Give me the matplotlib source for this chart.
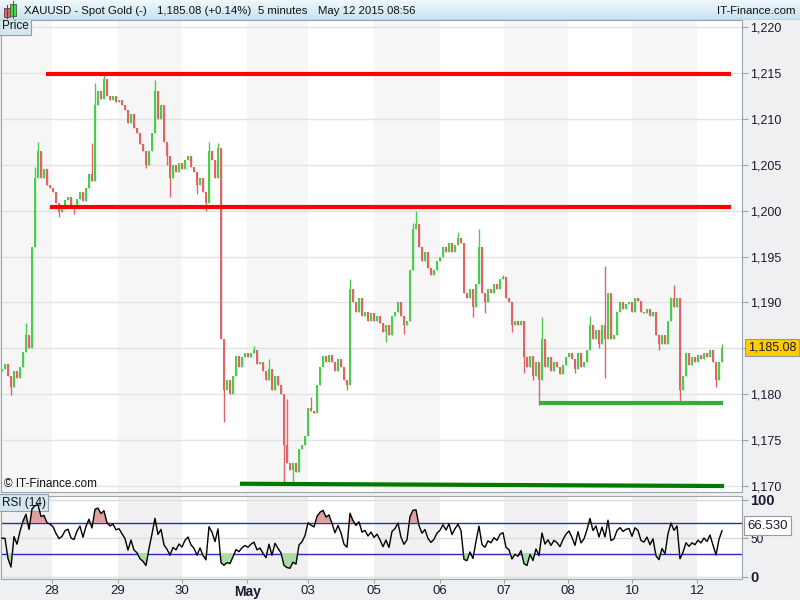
import numpy as np
import pandas as pd
import matplotlib
matplotlib.use('Agg')
import matplotlib.pyplot as plt
from matplotlib.patches import Rectangle

plt.rcParams['font.family'] = ['Liberation Sans', 'DejaVu Sans']

# 5 minute candles (one value per ~3 px of the original)
closes = [
    1182.8, 1183.3, 1182.0, 1180.8, 1182.5, 1181.8, 1183.0, 1184.6, 1186.5, 1185.0,
    1196.0, 1203.5, 1206.5, 1203.5, 1204.5, 1202.8, 1202.5, 1202.0, 1200.8, 1199.8,
    1200.2, 1201.2, 1201.5, 1200.5, 1200.3, 1201.3, 1202.0, 1201.0, 1202.5, 1204.0,
    1203.2, 1211.5, 1213.0, 1212.2, 1214.3, 1212.5, 1212.0, 1212.5, 1211.8, 1212.0,
    1211.5, 1211.0, 1209.5, 1210.5, 1209.0, 1208.5, 1207.2, 1206.5, 1205.0, 1206.5,
    1208.5, 1213.0, 1210.0, 1211.5, 1207.5, 1206.0, 1203.5, 1205.0, 1204.2, 1205.2,
    1204.5, 1205.5, 1206.0, 1204.8, 1204.2, 1202.8, 1203.5, 1202.0, 1200.8, 1206.5,
    1205.5, 1203.5, 1206.8, 1186.0, 1180.5, 1181.5, 1180.0, 1182.0, 1184.2, 1183.0,
    1184.0, 1184.5, 1184.0, 1184.5, 1184.8, 1183.3, 1183.5, 1182.5, 1181.5, 1182.8,
    1180.5, 1182.0, 1181.0, 1180.0, 1174.5, 1172.5, 1171.8, 1172.5, 1171.5, 1174.0,
    1174.5, 1175.5, 1178.5, 1178.2, 1178.0, 1181.0, 1183.0, 1184.2, 1183.5, 1184.3,
    1183.5, 1182.5, 1183.8, 1183.0, 1181.5, 1181.0, 1191.5, 1190.0, 1189.0, 1190.5,
    1188.5, 1189.0, 1188.0, 1188.8, 1188.0, 1188.5, 1187.8, 1186.8, 1187.5, 1186.5,
    1188.5, 1189.0, 1190.0, 1188.5, 1187.5, 1188.0, 1193.5, 1198.0, 1198.5, 1196.0,
    1194.5, 1195.5, 1193.8, 1193.0, 1193.5, 1194.5, 1195.0, 1196.0, 1195.5, 1196.5,
    1195.5, 1196.3, 1197.0, 1196.5, 1191.0, 1190.5, 1191.5, 1189.5, 1192.0, 1196.0,
    1191.0, 1190.0, 1191.5, 1191.0, 1192.0, 1191.5, 1192.5, 1192.8, 1190.5, 1190.0,
    1187.5, 1188.0, 1187.5, 1188.0, 1184.0, 1183.0, 1184.2, 1182.0, 1183.5, 1181.5,
    1186.0, 1183.0, 1184.0, 1182.5, 1183.5, 1183.0, 1182.2, 1183.2, 1184.0, 1184.5,
    1183.8, 1182.8, 1184.5, 1183.0, 1183.5, 1184.8, 1187.5, 1186.0, 1187.0, 1185.5,
    1187.5, 1186.0, 1191.0, 1186.0, 1186.5, 1189.0, 1190.0, 1189.3, 1189.8, 1190.0,
    1189.0, 1190.5, 1190.2, 1189.0, 1188.8, 1189.3, 1188.5, 1189.0, 1186.5, 1185.5,
    1186.5, 1185.5, 1188.0, 1190.5, 1189.5, 1190.5, 1180.5, 1182.0, 1184.5, 1183.2,
    1184.0, 1183.5, 1184.3, 1183.8, 1184.5, 1184.0, 1184.8, 1183.5, 1181.5, 1183.5,
    1185.08,
]
first_open = 1182.5

# wicks that stick out of the bodies
wick_hi = {8: 1187.8, 11: 1204.7, 12: 1207.5, 30: 1207.4, 31: 1213.9, 34: 1215.1,
           51: 1214.2, 69: 1207.5, 72: 1207.4, 84: 1185.2, 89: 1183.8, 95: 1179.5,
           103: 1179.7, 116: 1192.5, 137: 1198.6, 138: 1200.0, 152: 1197.7,
           159: 1198.0, 167: 1193.0, 180: 1188.4, 196: 1188.5, 201: 1194.0,
           224: 1191.9, 240: 1185.5}
wick_lo = {3: 1179.9, 19: 1199.3, 24: 1199.6, 48: 1204.6, 55: 1205.0, 56: 1201.5,
           65: 1201.8, 68: 1200.0, 74: 1177.0, 94: 1170.2, 97: 1170.5, 115: 1180.5,
           128: 1185.7, 134: 1186.6, 157: 1188.4, 161: 1188.8, 170: 1186.8,
           174: 1182.3, 177: 1181.6, 179: 1178.8, 191: 1182.3, 199: 1185.0,
           201: 1181.8, 219: 1184.8, 226: 1179.0, 238: 1180.8}

# session starts (candle index) and their labels
day_pos = [16.7, 38.7, 60, 81.7, 102, 124, 146, 167.3, 188.7, 210, 231.7]
day_labels = ['28', '29', '30', 'May', '03', '05', '06', '07', '08', '10', '12']

# hand drawn lines: (x0, x1, y0, y1)
red_top = (14.7, 243.0, 1214.9, 1214.9)
red_mid = (16.0, 243.0, 1200.4, 1200.4)
green_sup = (179.0, 240.3, 1179.05, 1179.05)
green_low = (79.3, 240.7, 1170.25, 1170.0)

last_price = 1185.08
rsi_last = 66.530

# ------------------------------------------------------------------
c = np.array(closes)
o = np.array([first_open] + closes[:-1])
hi = np.maximum(o, c)
lo = np.minimum(o, c)
for k, v in wick_hi.items():
    hi[k] = max(hi[k], v)
for k, v in wick_lo.items():
    lo[k] = min(lo[k], v)
x = np.arange(len(c))

# RSI(14) of the 5 min series; each bar here stands for several 5 min
# candles, so the look-back is shortened to the same span of time
n_rsi = 5
d = pd.Series(c).diff().fillna(0)
up = d.clip(lower=0).ewm(alpha=1/n_rsi, adjust=False).mean()
dn = (-d.clip(upper=0)).ewm(alpha=1/n_rsi, adjust=False).mean()
rsi = (100 - 100 / (1 + up / dn.replace(0, np.nan))).fillna(50).values

W, H = 800, 600
fig = plt.figure(figsize=(8, 6), dpi=100, facecolor='#eff0f1')
xmin, xmax = -0.33, 246.67

ax = fig.add_axes([1/W, 1 - 492/H, 741/W, 472/H])
ax2 = fig.add_axes([1/W, 1 - 579/H, 741/W, 83/H])
axh = fig.add_axes([0, 1 - 20/H, 1, 20/H])

# header
grad = np.linspace(0, 1, 20).reshape(-1, 1)
axh.imshow(grad, aspect='auto', cmap=matplotlib.colors.LinearSegmentedColormap.from_list(
    'h', ['#eef8fc', '#c8e2ef']), extent=[0, 1, 0, 1])
axh.set_xlim(0, 1); axh.set_ylim(0, 1); axh.axis('off')
axh.add_patch(Rectangle((4/W, 0.15), 6/W, 0.45, fc='#e06464', ec='#604040', lw=0.6))
axh.add_patch(Rectangle((10/W, 0.2), 6/W, 0.6, fc='#50d050', ec='#406040', lw=0.6))
axh.add_patch(Rectangle((6.5/W, 0.05), 1/W, 0.7, fc='#604040', lw=0))
axh.add_patch(Rectangle((12.5/W, 0.05), 1/W, 0.9, fc='#406040', lw=0))
hy = 0.47
hfs = 8.2
axh.text(24/W, hy, 'XAUUSD - Spot Gold (-)', va='center', fontsize=hfs, color='#111111')
axh.text(157/W, hy, '1,185.08 (+0.14%)', va='center', fontsize=hfs, color='#111111')
axh.text(258/W, hy, '5 minutes', va='center', fontsize=hfs, color='#111111')
axh.text(318/W, hy, 'May 12 2015 08:56', va='center', fontsize=hfs, color='#111111')
axh.text(795/W, hy, 'IT-Finance.com', va='center', ha='right', fontsize=hfs, color='#111111')
axh.plot([0, 1], [0.02, 0.02], color='#8c9aa6', lw=1)

edges = [xmin] + day_pos + [xmax]
for a, shade in ((ax, '#f6f6f6'), (ax2, '#f1f1f1')):
    a.set_facecolor('white')
    for k in range(len(edges) - 1):
        if k % 2 == 0:
            a.axvspan(edges[k], edges[k + 1], color=shade, lw=0, zorder=0)
    for s in a.spines.values():
        s.set_color('#9aa4ae')

# price panel
ax.set_xlim(xmin, xmax)
ax.set_ylim(1169.35, 1220.76)
yt = np.arange(1170, 1221, 5)
ax.set_yticks(yt)
# the 1,185 label sits under the last price box
ax.set_yticklabels(['' if v == 1185 else f'{v:,.0f}' for v in yt])
ax.yaxis.tick_right()
ax.tick_params(axis='y', length=4, width=0.8, colors='#9aa4ae', labelcolor='#1a1a30',
               labelsize=9, pad=2)
ax.set_xticks([])
ax.grid(axis='y', color='#e2e2e2', lw=1)
ax.set_axisbelow(True)

col = np.where(c >= o, '#4ccc4c', '#e06464')
ax.vlines(x, lo, hi, colors=col, lw=1, zorder=2)
body = np.maximum(np.abs(c - o), 0.12)
ax.bar(x, body, bottom=np.minimum(o, c), width=0.78, color=col, lw=0, zorder=3)

ax.plot(red_top[:2], red_top[2:], color='#ff0000', lw=3, solid_capstyle='butt', zorder=4)
ax.plot(red_mid[:2], red_mid[2:], color='#ff0000', lw=3, solid_capstyle='butt', zorder=4)
ax.plot(green_sup[:2], green_sup[2:], color='#33b033', lw=3, solid_capstyle='butt', zorder=4)
ax.plot(green_low[:2], green_low[2:], color='#007a00', lw=3, solid_capstyle='butt', zorder=4)

ax.text(1.008, last_price, f'{last_price:,.2f}', transform=ax.get_yaxis_transform(),
        va='center', ha='left', fontsize=9, color='#1a1a30', clip_on=False,
        bbox=dict(boxstyle='square,pad=0.2', fc='#ffcc00', ec='#999999', lw=0.8))
ax.text(0.001, 0.999, 'Price', transform=ax.transAxes, va='top', ha='left', fontsize=8.5,
        color='#111111', bbox=dict(boxstyle='square,pad=0.2', fc='#d5e6ef', ec='#8ea0ae', lw=0.8))
ax.text(0.004, 0.004, '© IT-Finance.com', transform=ax.transAxes, va='bottom', ha='left',
        fontsize=8.5, color='#111111')

# RSI panel
ax2.set_xlim(xmin, xmax)
ax2.set_ylim(-3, 105)
ax2.plot(x, rsi, color='black', lw=1, zorder=4)
ax2.fill_between(x, rsi, 70, where=rsi > 70, interpolate=True, color='#e0a0a0', lw=0, zorder=3)
ax2.fill_between(x, rsi, 30, where=rsi < 30, interpolate=True, color='#a8dca8', lw=0, zorder=3)
ax2.axhline(70, color='#2828c8', lw=1, zorder=2)
ax2.axhline(30, color='#2828c8', lw=1, zorder=2)
for v in (0, 50, 100):
    ax2.axhline(v, color='#dcdcdc', lw=1, zorder=1)
ax2.yaxis.tick_right()
ax2.set_yticks([0, 50, 100])
ax2.set_yticklabels(['0', '50', '100'])
ax2.tick_params(axis='y', length=4, width=0.8, colors='#9aa4ae', labelcolor='#1a1a30', pad=2)
for t, fs, fw in zip(ax2.get_yticklabels(), (10.5, 8.5, 10.5), ('bold', 'normal', 'bold')):
    t.set_fontsize(fs)
    t.set_fontweight(fw)
ax2.set_xticks(day_pos)
ax2.set_xticklabels(day_labels)
ax2.tick_params(axis='x', length=3, width=0.8, colors='#9aa4ae', labelcolor='#1a1a30',
                labelsize=9.5, pad=1)
ax2.get_xticklabels()[3].set_fontweight('bold')
ax2.get_xticklabels()[3].set_fontsize(10)
ax2.text(1.007, rsi_last, f'{rsi_last:.3f}', transform=ax2.get_yaxis_transform(),
         va='center', ha='left', fontsize=9.5, color='#1a1a30', clip_on=False,
         bbox=dict(boxstyle='square,pad=0.25', fc='white', ec='#999999', lw=0.8))
ax2.text(0.001, 0.99, 'RSI (14)', transform=ax2.transAxes, va='top', ha='left', fontsize=8.5,
         color='#111111', bbox=dict(boxstyle='square,pad=0.2', fc='#d5e6ef', ec='#8ea0ae', lw=0.8))

fig.savefig('out.png', dpi=100, facecolor=fig.get_facecolor())
